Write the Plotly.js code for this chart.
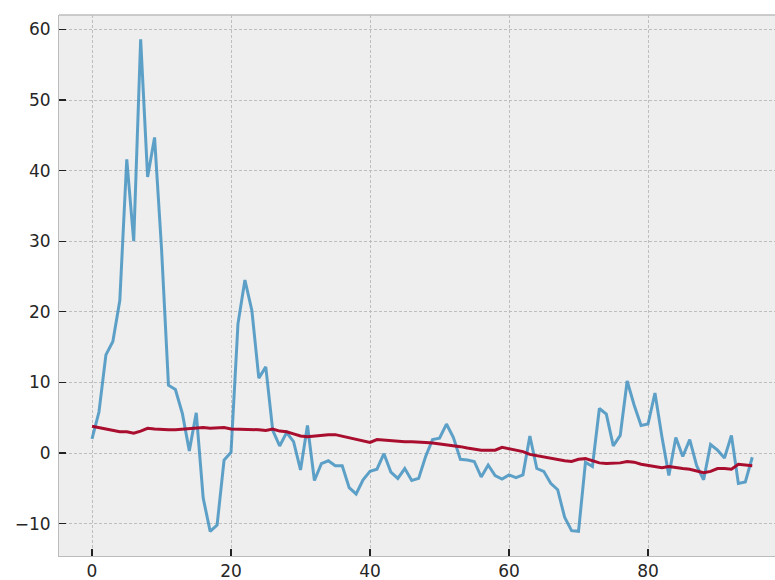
<!DOCTYPE html>
<html>
<head>
<meta charset="utf-8">
<script src="https://cdn.plot.ly/plotly-3.0.1.min.js"></script>
<style>
html,body{margin:0;padding:0;overflow:hidden;background:#fff;}
#chart{width:775px;height:580px;}
</style>
</head>
<body>
<div id="chart"></div>
<script>
var xIndex = [];
for (var i = 0; i < 96; i++) xIndex.push(i);

var seriesRaw = [
  2.0, 5.8, 13.9, 15.8, 21.6, 41.6, 30.0, 58.6, 39.1, 44.7,
  29.0, 9.6, 9.0, 5.6, 0.3, 5.7, -6.4, -11.1, -10.2, -1.0,
  0.1, 18.3, 24.5, 20.2, 10.6, 12.2, 3.2, 1.0, 2.9, 1.6,
  -2.4, 3.9, -3.9, -1.5, -1.1, -1.8, -1.8, -4.9, -5.8, -3.8,
  -2.6, -2.3, -0.1, -2.7, -3.6, -2.2, -3.9, -3.6, -0.5, 1.9,
  2.1, 4.1, 2.2, -0.9, -1.0, -1.2, -3.4, -1.7, -3.2, -3.7,
  -3.1, -3.5, -3.1, 2.4, -2.2, -2.6, -4.3, -5.2, -9.1, -11.0,
  -11.1, -1.3, -1.9, 6.3, 5.5, 1.0, 2.5, 10.2, 6.8, 3.9,
  4.1, 8.5, 2.3, -3.2, 2.2, -0.5, 1.9, -1.8, -3.8, 1.2,
  0.4, -0.7, 2.5, -4.3, -4.1, -0.6
];

var seriesTrend = [
  3.8, 3.6, 3.3, 3.1, 3.0, 3.0, 2.8, 3.1, 3.5, 3.4,
  3.3, 3.3, 3.3, 3.4, 3.4, 3.5, 3.6, 3.5, 3.5, 3.6,
  3.4, 3.4, 3.3, 3.3, 3.3, 3.2, 3.4, 3.1, 3.0, 2.7,
  2.4, 2.3, 2.4, 2.6, 2.6, 2.6, 2.4, 2.2, 1.9, 1.7,
  1.5, 1.9, 1.8, 1.8, 1.7, 1.6, 1.6, 1.6, 1.5, 1.4,
  1.3, 1.2, 1.0, 0.9, 0.7, 0.5, 0.4, 0.4, 0.4, 0.8,
  0.6, 0.5, 0.2, -0.2, -0.4, -0.5, -0.7, -0.9, -1.1, -1.2,
  -0.9, -0.8, -1.1, -1.4, -1.5, -1.5, -1.4, -1.2, -1.3, -1.6,
  -1.8, -2.0, -2.1, -1.9, -2.1, -2.2, -2.3, -2.6, -2.8, -2.6,
  -2.2, -2.2, -2.3, -1.6, -1.7, -1.8
];

var xTicks = [0, 20, 40, 60, 80];
var yTicks = [-10, 0, 10, 20, 30, 40, 50, 60];

var traces = [
  {x: xIndex, y: seriesRaw, type: 'scatter', mode: 'lines',
   line: {color: 'rgba(52,138,189,0.78)', width: 3}, hoverinfo: 'none'},
  {x: xIndex, y: seriesTrend, type: 'scatter', mode: 'lines',
   line: {color: 'rgba(166,6,40,0.97)', width: 3}, hoverinfo: 'none'}
];

var axisCommon = {
  showgrid: true, gridcolor: '#b8b8b8', griddash: '3px,2px', gridwidth: 0.9,
  zeroline: false, ticks: 'inside', ticklen: 7, tickwidth: 1.3, tickcolor: '#222',
  tickfont: {family: 'DejaVu Sans', size: 17, color: '#262626'},
  showline: true, linecolor: '#bcbcbc', linewidth: 1
};

var layout = {
  width: 775, height: 580,
  margin: {l: 59, r: 0, t: 15, b: 24},
  paper_bgcolor: '#ffffff', plot_bgcolor: '#eeeeee',
  showlegend: false,
  xaxis: Object.assign({}, axisCommon, {
    range: [-4.75, 98.27], tickmode: 'array', tickvals: xTicks,
    ticktext: xTicks.map(String), ticklabelstandoff: 0
  }),
  yaxis: Object.assign({}, axisCommon, {
    range: [-14.59, 62.04], tickmode: 'array', tickvals: yTicks,
    ticktext: yTicks.map(function(v){ return v < 0 ? '\u2212' + String(-v) : String(v); }),
    ticklabelstandoff: 4
  }),
  shapes: [
    {type: 'line', xref: 'paper', yref: 'paper', x0: 0, x1: 1, y0: 1, y1: 1,
     line: {color: '#bcbcbc', width: 1.5}}
  ]
};

Plotly.newPlot('chart', traces, layout, {displayModeBar: false, staticPlot: true});
</script>
</body>
</html>
